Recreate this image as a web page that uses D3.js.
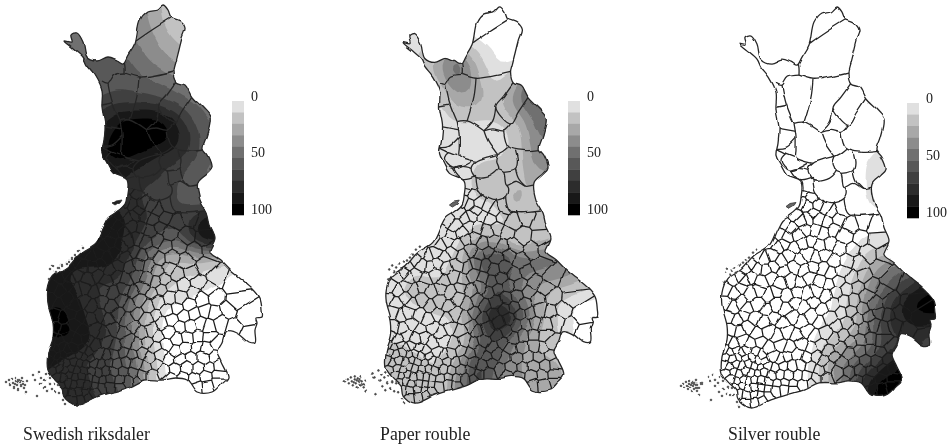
<!DOCTYPE html>
<html>
<head>
<meta charset="utf-8">
<script src="https://cdn.jsdelivr.net/npm/d3@7"></script>
<style>
  html, body { margin: 0; background: #fff; }
  svg { display: block; filter: blur(0.55px); }
  text { font-family: "Liberation Serif", serif; fill: #222; }
</style>
</head>
<body>
<svg id="chart" width="948" height="447"></svg>
<script>
// share of each currency at 20 unit steps (rows y=0,20.. cols x=0,20..)
const swedishRiksdaler = [
  [40,40,40,40,40,40,40,38,25,10,5,5,5,5,5],
  [50,50,50,50,50,50,45,38,28,5,3,3,3,3,3],
  [50,50,50,50,50,50,50,42,32,22,15,15,15,15,15],
  [50,50,50,50,55,55,60,48,38,30,25,25,25,25,25],
  [55,55,55,55,55,58,60,56,52,45,40,40,40,40,40],
  [60,60,60,60,60,65,70,68,65,56,50,45,45,45,45],
  [70,70,70,70,70,80,95,100,100,80,56,50,50,50,50],
  [80,80,80,80,85,90,100,100,100,90,62,55,55,55,55],
  [85,85,85,85,85,90,95,90,78,74,60,50,50,50,50],
  [85,85,85,85,85,86,86,74,74,62,52,50,50,50,50],
  [85,85,85,85,85,86,80,72,72,62,52,55,55,55,55],
  [90,90,90,90,90,92,88,78,70,66,90,100,100,100,100],
  [90,90,90,90,92,96,88,72,62,56,92,100,90,90,90],
  [88,88,90,86,88,92,84,60,25,18,25,10,3,3,3],
  [85,85,85,88,78,72,76,56,22,12,6,3,1,1,1],
  [90,90,90,92,86,72,66,40,5,2,1,0,0,0,0],
  [92,92,92,100,86,78,66,30,0,0,0,0,0,0,0],
  [90,90,90,94,94,78,62,30,0,0,0,0,0,0,0],
  [85,85,85,85,76,68,60,42,0,0,0,0,0,0,0],
  [85,85,85,80,78,68,62,48,0,0,0,0,0,0,0],
  [85,85,85,85,80,75,65,50,10,0,0,0,0,0,0],
  [85,85,85,85,80,75,65,50,10,0,0,0,0,0,0]
]
const paperRouble = [
  [0,0,0,0,0,0,0,0,0,0,0,0,0,0,0],
  [0,0,0,0,0,0,0,0,0,0,0,0,0,0,0],
  [5,5,5,5,8,10,10,0,0,0,0,0,0,0,0],
  [5,5,5,5,14,30,62,18,0,0,0,0,0,0,0],
  [0,0,0,0,0,22,50,30,3,30,65,65,65,65,65],
  [0,0,0,0,0,5,32,30,18,45,62,62,62,62,62],
  [0,0,0,0,0,5,12,12,12,20,50,50,50,50,50],
  [0,0,0,0,10,15,2,0,0,15,45,45,45,45,45],
  [0,0,0,0,0,3,2,14,15,16,40,40,40,40,40],
  [0,0,0,0,0,3,8,15,16,18,30,30,30,30,30],
  [0,0,0,0,0,5,8,12,16,35,12,10,10,10,10],
  [0,0,0,0,0,3,3,3,3,15,15,15,15,15,15],
  [0,0,0,0,0,3,5,30,30,3,15,25,25,25,25],
  [8,8,8,8,10,6,12,62,78,55,55,50,45,45,45],
  [10,10,10,10,14,10,18,35,62,42,36,36,32,15,15],
  [10,10,10,10,18,28,12,40,78,52,30,12,2,0,0],
  [10,10,10,8,0,8,12,62,100,75,35,10,0,0,0],
  [12,12,12,12,6,10,6,42,72,42,20,15,0,0,0],
  [15,15,15,15,15,8,22,72,58,35,26,24,10,0,0],
  [16,16,16,16,16,12,35,78,42,35,32,35,10,0,0],
  [16,16,16,16,16,12,35,78,42,35,32,35,10,0,0],
  [16,16,16,16,16,12,35,78,42,35,32,35,10,0,0]
]
const silverRouble = [
  [0,0,0,0,0,0,0,0,0,0,0,0,0,0,0],
  [0,0,0,0,0,0,0,0,0,0,0,0,0,0,0],
  [0,0,0,0,0,0,0,0,0,0,0,0,0,0,0],
  [0,0,0,0,0,0,0,0,0,0,0,0,0,0,0],
  [0,0,0,0,0,0,0,0,0,0,0,0,0,0,0],
  [0,0,0,0,0,0,0,0,0,0,0,0,0,0,0],
  [0,0,0,0,0,0,0,0,0,0,0,0,0,0,0],
  [0,0,0,0,0,0,0,0,0,0,0,1,1,1,1],
  [0,0,0,0,0,0,0,0,0,0,5,12,12,12,12],
  [0,0,0,0,0,0,0,0,0,0,5,12,12,12,12],
  [0,0,0,0,0,0,0,0,0,0,5,5,5,5,5],
  [0,0,0,0,0,0,0,0,0,0,0,0,0,0,0],
  [0,0,0,0,0,0,0,0,0,0,6,5,5,5,5],
  [0,0,0,0,0,0,0,0,0,5,28,42,55,62,62],
  [0,0,0,0,0,0,0,0,0,12,42,58,72,92,92],
  [0,0,0,0,0,0,0,0,2,18,52,78,100,100,100],
  [0,0,0,0,0,0,0,0,4,15,62,80,88,88,88],
  [0,0,0,0,0,0,0,0,20,32,52,72,72,62,62],
  [0,0,0,0,0,0,0,2,35,55,68,92,92,80,80],
  [0,0,0,0,0,0,0,2,35,62,98,100,100,100,100],
  [0,0,0,0,0,0,0,2,35,62,98,100,100,100,100],
  [0,0,0,0,0,0,0,2,35,62,98,100,100,100,100]
]

// country outline, in map units
const outline = [[163,5],[168,10],[171,17],[180,21],[185,28],[182,38],[179,50],[176,62],[174,71],[177,82],[185,85],[192,97],[203,108],[210,117],[207,135],[203,148],[208,155],[212,167],[207,173],[198,182],[200,200],[207,213],[210,225],[215,238],[210,252],[220,260],[230,270],[241,279],[252,288],[260,298],[262,310],[262,317],[256,318],[257,323],[255,330],[255,343],[248,343],[238,335],[227,332],[223,342],[218,352],[222,362],[228,377],[222,384],[213,392],[197,392],[187,380],[175,378],[163,380],[145,380],[130,387],[113,392],[97,397],[77,405],[65,397],[63,388],[55,380],[48,370],[48,353],[53,337],[53,323],[48,303],[48,290],[53,277],[67,267],[80,253],[95,243],[103,227],[108,218],[115,213],[125,204],[127,195],[127,180],[113,173],[107,163],[102,153],[104,140],[105,125],[102,107],[102,90],[95,75],[87,65],[83,57],[73,48],[65,41],[72,42],[71,35],[77,33],[83,42],[87,57],[97,61],[108,57],[117,60],[123,63],[128,55],[135,43],[140,20],[147,12],[157,10]]
const hailuoto = [[112,204],[116,201],[122,200],[120,203],[115,206]]

// big northern municipality borders
const borders = [
  [[136,41],[152,30],[171,18]],
  [[124,60],[125,66],[125,73]],
  [[125,73],[139,77],[156,75],[174,71]],
  [[125,73],[114,75],[108,83],[102,81]],
  [[139,77],[137,95],[130,120]],
  [[108,83],[112,101],[120,121]],
  [[120,121],[130,120],[147,130]],
  [[177,81],[167,95],[159,106],[174,123],[182,111],[192,96]],
  [[159,106],[156,120],[147,130]],
  [[147,130],[156,128],[167,130],[174,123]],
  [[167,130],[172,146],[189,150],[204,149]],
  [[147,130],[151,140],[161,154]],
  [[161,154],[167,151],[172,147]],
  [[179,150],[181,161],[179,168],[167,171]],
  [[161,154],[152,156],[139,161],[134,168],[139,177],[152,176],[161,168],[159,161],[161,154]],
  [[161,168],[167,171],[170,185],[180,181],[189,186],[197,185]],
  [[179,168],[182,178],[189,186]],
  [[120,121],[122,135],[122,148],[122,155],[139,161]],
  [[105,126],[122,129]],
  [[102,105],[112,103]],
  [[102,146],[112,145],[122,136]],
  [[102,146],[112,151],[120,154]],
  [[112,151],[107,158],[116,168],[134,161]],
  [[116,168],[124,166],[134,168]],
  [[116,168],[125,178],[139,175]],
  [[139,177],[142,191],[155,200],[170,196],[172,188],[170,185]],
  [[170,196],[175,211],[205,211]],
  [[125,178],[122,185],[142,191]]
]

// south of this line the municipalities are small
const southRegion = [[0,185],[122,185],[142,191],[155,200],[170,196],[175,211],[205,211],[300,211],[300,450],[0,450]]

// municipality centres of the south
const seats = [
  [129,189],[137,195],[126,201],[133,204],[143,203],[139,211],[150,206],[158,211],[168,207],
  [121,212],[128,219],[135,216],[145,216],[154,219],[165,217],[176,222],[190,217],[203,222],[111,221],[118,226],
  [105,231],[113,235],[124,232],[131,226],[141,228],[150,231],[160,228],[170,233],[186,236],[204,238],
  [96,240],[103,245],[110,241],[120,246],[129,240],[137,238],[146,243],[156,241],[166,247],[178,246],[195,251],[211,250],
  [84,252],[91,256],[99,253],[107,258],[115,253],[125,257],[134,251],[142,255],[151,252],[160,258],[172,257],[185,261],[205,266],
  [70,265],[76,261],[83,266],[92,267],[101,264],[110,269],[120,265],[130,267],[139,264],[149,266],[157,270],[168,268],[178,275],[190,273],[198,283],[216,277],
  [59,276],[65,273],[71,278],[78,275],[88,279],[97,275],[106,281],[116,277],[126,280],[136,275],[146,279],[155,282],[164,279],[172,287],[183,285],[193,293],[209,289],[234,284],
  [52,287],[60,291],[68,286],[76,291],[85,288],[94,292],[103,289],[113,293],[124,289],[134,292],[143,288],[152,293],[161,290],[170,298],[180,297],[189,305],[201,300],[216,298],[236,300],
  [51,300],[58,304],[67,299],[74,305],[84,301],[92,307],[102,302],[112,306],[121,300],[130,305],[140,300],[148,306],[158,302],[167,310],[177,308],[184,316],[194,314],[205,311],[214,313],[227,310],[246,316],
  [55,314],[63,317],[71,313],[81,316],[90,320],[100,315],[109,320],[118,314],[128,319],[137,313],[146,319],[156,315],[163,323],[172,320],[180,327],[190,326],[200,323],[209,326],[220,323],[234,327],[249,334],
  [56,327],[65,329],[74,325],[83,331],[94,329],[103,334],[113,329],[123,333],[133,327],[141,333],[151,330],[159,336],[169,332],[177,339],[187,337],[197,336],[209,337],
  [52,337],[60,341],[68,337],[77,341],[86,339],[95,345],[106,342],[116,346],[127,341],[137,345],[147,342],[156,348],[166,345],[175,351],[186,348],[197,347],[207,349],[216,344],
  [50,346],[56,349],[62,347],[68,350],[74,347],[81,349],[88,352],
  [52,354],[58,356],[64,354],[71,356],[78,355],[84,357],[91,358],[99,354],[106,357],[114,354],[123,352],[132,355],[142,353],[150,358],[160,355],[169,360],[180,359],[191,358],[203,358],[214,356],
  [50,361],[55,364],[61,361],[67,363],[73,361],[80,363],[87,364],[94,363],[101,365],[109,363],[118,364],[127,362],[136,364],[145,367],[155,364],[164,370],[175,369],[186,368],[198,368],[209,367],[219,366],
  [53,370],[59,369],[65,371],[71,368],[77,370],[84,371],[91,370],[98,372],[106,371],[114,372],[123,372],[133,373],[142,375],[152,375],[171,378],[183,377],[194,378],[206,376],[218,375],
  [58,377],[63,378],[69,376],[75,378],[81,377],[88,378],[95,379],[103,380],[111,379],[119,380],[128,381],[137,380],
  [197,387],[208,386],[218,383],
  [62,385],[68,383],[74,385],[80,384],[87,385],[94,386],[102,387],[110,386],[119,387],
  [65,391],[72,392],[79,391],[86,392],[94,392],[72,399],[80,398],[88,396]
]

// skerries: Aland, the archipelago, Kvarken
const islands = [
  [6,383],[9,381],[10,385],[12,379],[13,383],[14,387],[16,378],[16,381],[17,385],[18,389],[19,380],[20,383],[21,386],[22,378],[23,382],[24,388],[25,385],[27,381],[26,392],[15,384],[18,382],[21,381],[23,385],
  [34,375],[36,379],[39,372],[41,383],[37,397],[42,377],[45,380],[44,388],[47,374],[49,385],[47,392],[50,378],[52,390],[54,384],[56,392],[58,385],[60,393],[64,400],[66,404],
  [51,270],[53,266],[56,272],[58,268],[61,265],[63,270],[66,263],[69,261],[72,258],[75,255],[50,280],[82,247],[78,250]
]

const legendValues = [0,50,100]
const bandColors = ["#e0e0e0","#c2c2c2","#a8a8a8","#8c8c8c","#707070","#585858","#404040","#2c2c2c","#181818","#000000"]
const thresholds = [3,12,24,34,44,54,64,74,84,93]

const titles = ["Swedish riksdaler","Paper rouble","Silver rouble"]
const fields = [swedishRiksdaler, paperRouble, silverRouble]

// where each of the three maps sits on the page
const panels = [
  {x:[0,280], y:[0,420], lx:232, ly:[101,215], tx:23},
  {x:[339,615], y:[2,418], lx:568, ly:[101,215], tx:380},
  {x:[674,954], y:[2,423], lx:907, ly:[103,218], tx:728}
]

const up = 5 // each grid cell becomes up*up contour cells
const svg = d3.select("#chart")

// hand-drawn wobble for the map lines
const wobble = svg.append("defs").append("filter")
  .attr("id", "wobble")
  .attr("filterUnits", "userSpaceOnUse")
  .attr("x", 0).attr("y", 0).attr("width", 948).attr("height", 447)
  .attr("color-interpolation-filters", "sRGB")
wobble.append("feTurbulence")
  .attr("type", "fractalNoise")
  .attr("baseFrequency", 0.07)
  .attr("numOctaves", 1)
  .attr("seed", 4)
  .attr("result", "noise")
wobble.append("feDisplacementMap")
  .attr("in", "SourceGraphic")
  .attr("in2", "noise")
  .attr("scale", 5)
  .attr("xChannelSelector", "R")
  .attr("yChannelSelector", "G")

panels.forEach((p, i) => {
  const xs = d3.scaleLinear().domain([0,280]).range(p.x)
  const ys = d3.scaleLinear().domain([0,420]).range(p.y)
  const line = d3.line().x(d => xs(d[0])).y(d => ys(d[1]))

  const g = svg.append("g")
  const map = g.append("g").attr("filter", "url(#wobble)")
  const defs = g.append("defs")
  const outlinePath = line.curve(d3.curveCatmullRomClosed.alpha(0.5))(outline)

  defs.append("clipPath").attr("id", `land${i}`).append("path").attr("d", outlinePath)
  line.curve(d3.curveLinear)
  defs.append("clipPath").attr("id", `south${i}`).append("path").attr("d", line(southRegion) + "Z")

  const land = map.append("g").attr("clip-path", `url(#land${i})`)
  land.append("path").attr("d", outlinePath).attr("fill", "#fff")

  // shading
  const rows = fields[i]
  const w = rows[0].length * up, h = rows.length * up
  const values = new Float64Array(w * h)
  rows.forEach((row, r) => row.forEach((v, c) => {
    for (let a = 0; a < up; a++) for (let b = 0; b < up; b++) values[(r*up+a)*w + c*up+b] = v
  }))
  d3.blur2({data: values, width: w, height: h}, 2)

  const toPage = d3.geoTransform({
    point(x, y) { this.stream.point(xs((x - up/2) * 20/up), ys((y - up/2) * 20/up)) }
  })
  const contourPath = d3.geoPath(toPage)
  land.selectAll("path.band")
    .data(d3.contours().size([w, h]).thresholds(thresholds)(Array.from(values)))
    .join("path")
    .attr("class", "band")
    .attr("d", contourPath)
    .attr("fill", (d, k) => bandColors[k])

  // small municipalities
  const vor = d3.Delaunay.from(seats, d => xs(d[0]), d => ys(d[1]))
    .voronoi([xs(0), ys(170), xs(300), ys(440)])
  land.append("g").attr("clip-path", `url(#south${i})`)
    .append("path")
    .attr("d", vor.render())
    .attr("fill", "none")
    .attr("stroke", "#1c1c1c")
    .attr("stroke-width", 1.25)

  // big municipalities
  line.curve(d3.curveCatmullRom.alpha(0.5))
  land.selectAll("path.border")
    .data(borders)
    .join("path")
    .attr("class", "border")
    .attr("d", line)
    .attr("fill", "none")
    .attr("stroke", "#262626")
    .attr("stroke-width", 1.3)

  map.append("path")
    .attr("d", outlinePath)
    .attr("fill", "none")
    .attr("stroke", "#262626")
    .attr("stroke-width", 1.3)

  map.append("path")
    .attr("d", line.curve(d3.curveLinear)(hailuoto) + "Z")
    .attr("fill", i == 0 ? "#222" : "#666")
    .attr("stroke", "#2e2e2e")
    .attr("stroke-width", 0.8)

  map.selectAll("circle.isle")
    .data(islands)
    .join("circle")
    .attr("class", "isle")
    .attr("cx", d => xs(d[0]))
    .attr("cy", d => ys(d[1]))
    .attr("r", 0.9)
    .attr("fill", "#555")
    .attr("stroke", "#333")
    .attr("stroke-width", 0.6)

  // legend
  const bandY = d3.scaleBand().domain(d3.range(bandColors.length)).range(p.ly)
  g.selectAll("rect.swatch")
    .data(bandColors)
    .join("rect")
    .attr("class", "swatch")
    .attr("x", p.lx)
    .attr("y", (d, k) => bandY(k))
    .attr("width", 12)
    .attr("height", bandY.bandwidth() + 0.3)
    .attr("fill", d => d)

  const valueY = d3.scaleLinear().domain([0,100]).range([p.ly[0] - 5, p.ly[1] - 6])
  g.selectAll("text.tick")
    .data(legendValues)
    .join("text")
    .attr("class", "tick")
    .attr("x", p.lx + 19)
    .attr("y", d => valueY(d) + 4.5)
    .attr("font-size", 14)
    .text(d => d)

  g.append("text")
    .attr("x", p.tx)
    .attr("y", 440)
    .attr("font-size", 17.8)
    .text(titles[i])
})
</script>
</body>
</html>
